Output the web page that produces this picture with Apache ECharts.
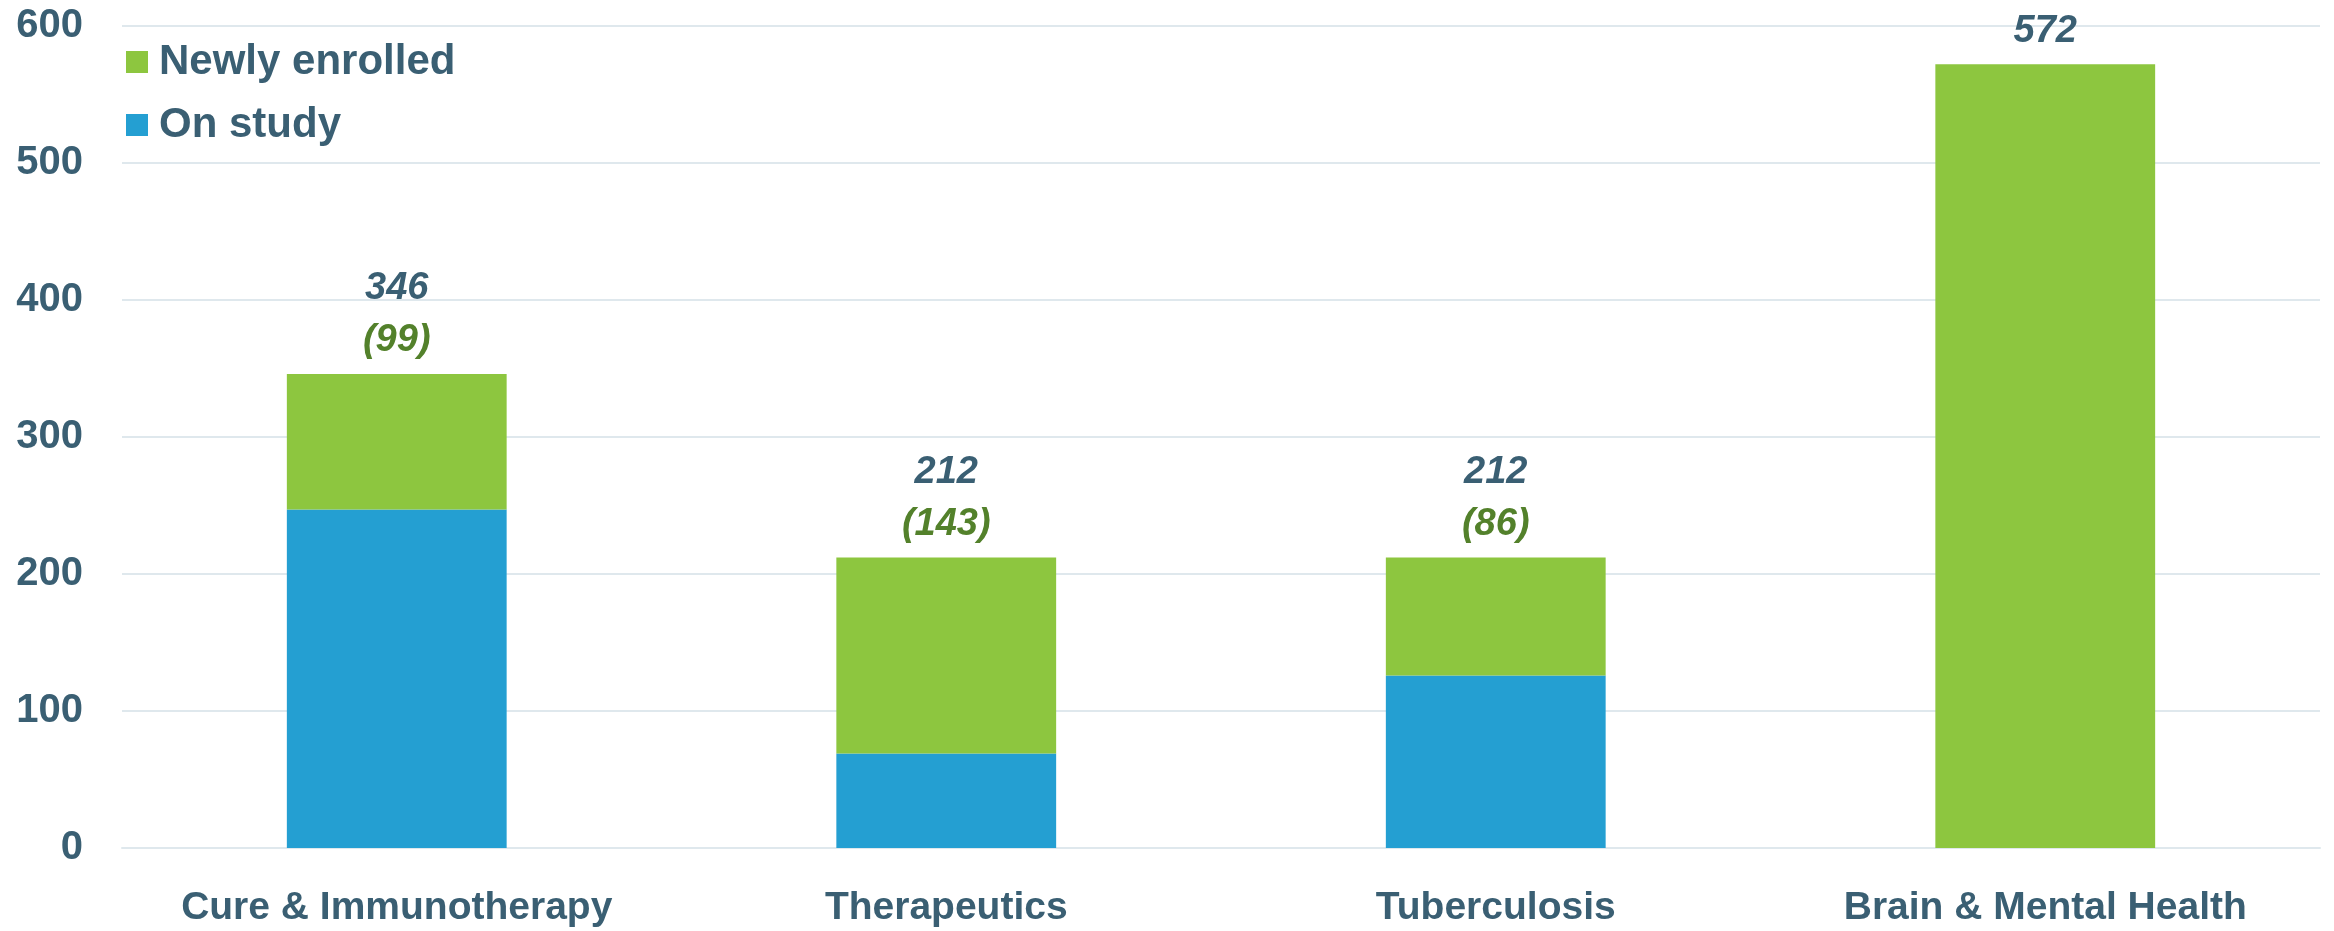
<!DOCTYPE html>
<html>
<head>
<meta charset="utf-8">
<title>Enrollment by research area</title>
<script src="https://cdn.jsdelivr.net/npm/echarts@6/dist/echarts.min.js"></script>
<style>
  html, body { margin: 0; padding: 0; background: #fff; }
  #chart { width: 2334px; height: 931px; }
</style>
</head>
<body>
<div id="chart"></div>
<script>
var categories = ['Cure & Immunotherapy', 'Therapeutics', 'Tuberculosis', 'Brain & Mental Health'];
var onStudy = [247, 69, 126, 0];
var newlyEnrolled = [99, 143, 86, 572];
var yTicks = [0, 100, 200, 300, 400, 500, 600];

var TEXT = '#3a5f73';
var GREEN_TEXT = '#53812b';
var SANS = '"Liberation Sans", Arial, sans-serif';

var ChartBean = {
	totalLabel: function(p) {
		var i = p.dataIndex;
		var total = onStudy[i] + newlyEnrolled[i];
		// only stacked bars get the (new) line
		if (onStudy[i] > 0) {
			return '{t|' + total + '}\n{g|(' + newlyEnrolled[i] + ')}';
		}
		return '{t|' + total + '}';
	},
	getOption: function() {
		return {
			animation: false,
			grid: { left: 122, right: 14, top: 26, bottom: 83, containLabel: false },
			legend: {
				data: ['Newly enrolled', 'On study'],
				orient: 'vertical',
				left: 126,
				top: 41,
				padding: 0,
				itemWidth: 22,
				itemHeight: 22,
				itemGap: 21,
				icon: 'rect',
				textStyle: {
					color: TEXT,
					fontSize: 42,
					fontWeight: 'bold',
					fontFamily: SANS,
					padding: [0, 0, 0, 6]
				}
			},
			xAxis: {
				type: 'category',
				data: categories,
				axisLine: { show: true, lineStyle: { color: '#dfe8ed', width: 2 } },
				axisTick: { show: false },
				axisLabel: {
					color: TEXT,
					fontSize: 39,
					fontWeight: 'bold',
					fontFamily: SANS,
					margin: 41,
					interval: 0
				}
			},
			yAxis: {
				type: 'value',
				min: yTicks[0],
				max: yTicks[yTicks.length - 1],
				interval: 100,
				axisLine: { show: false },
				axisTick: { show: false },
				splitLine: { lineStyle: { color: '#dfe8ed', width: 2 } },
				axisLabel: {
					color: TEXT,
					fontSize: 40,
					fontWeight: 'bold',
					fontFamily: SANS,
					margin: 39
				}
			},
			series: [{
				name: 'On study',
				type: 'bar',
				stack: 'all',
				barWidth: '40%',
				itemStyle: { color: '#249fd2' },
				data: onStudy
			}, {
				name: 'Newly enrolled',
				type: 'bar',
				stack: 'all',
				barWidth: '40%',
				itemStyle: { color: '#8dc63f' },
				data: newlyEnrolled,
				label: {
					show: true,
					position: 'top',
					distance: 7,
					formatter: ChartBean.totalLabel,
					rich: {
						t: { color: TEXT, fontSize: 38, fontWeight: 'bold', fontStyle: 'italic', fontFamily: SANS, lineHeight: 52 },
						g: { color: GREEN_TEXT, fontSize: 38, fontWeight: 'bold', fontStyle: 'italic', fontFamily: SANS, lineHeight: 52 }
					}
				}
			}]
		};
	}
};

var myChart = echarts.init(document.getElementById('chart'));
myChart.setOption(ChartBean.getOption());
</script>
</body>
</html>
